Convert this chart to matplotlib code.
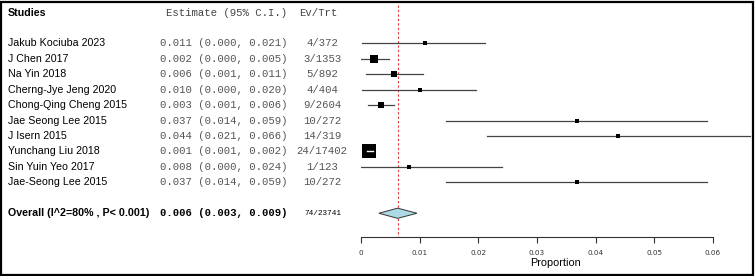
import matplotlib.pyplot as plt
import matplotlib.transforms as mtransforms
from matplotlib.patches import Polygon, Rectangle

studies = ['Jakub Kociuba 2023', 'J Chen 2017', 'Na Yin 2018', 'Cherng-Jye Jeng 2020',
           'Chong-Qing Cheng 2015', 'Jae Seong Lee 2015', 'J Isern 2015', 'Yunchang Liu 2018',
           'Sin Yuin Yeo 2017', 'Jae-Seong Lee 2015']
est = [0.0108, 0.0022, 0.0056, 0.0100, 0.0034, 0.0368, 0.0439, 0.0013, 0.0082, 0.0368]
lo = [0.0002, 0.0000, 0.0008, 0.0002, 0.0012, 0.0144, 0.0214, 0.0010, 0.0000, 0.0144]
hi = [0.0212, 0.0047, 0.0105, 0.0196, 0.0056, 0.0591, 0.0664, 0.0020, 0.0240, 0.0591]
weights = [2.7, 14.7, 7.5, 2.7, 12.0, 2.2, 2.2, 50.8, 3.3, 2.2]
est_txt = ['0.011 (0.000, 0.021)', '0.002 (0.000, 0.005)', '0.006 (0.001, 0.011)',
           '0.010 (0.000, 0.020)', '0.003 (0.001, 0.006)', '0.037 (0.014, 0.059)',
           '0.044 (0.021, 0.066)', '0.001 (0.001, 0.002)', '0.008 (0.000, 0.024)',
           '0.037 (0.014, 0.059)']
evtrt = ['4/372', '3/1353', '5/892', '4/404', '9/2604', '10/272', '14/319', '24/17402',
         '1/123', '10/272']
pooled, pooled_lo, pooled_hi = 0.0062, 0.0030, 0.0095
pooled_label = 'Overall (I^2=80% , P< 0.001)'
pooled_txt = '0.006 (0.003, 0.009)'
pooled_evtrt = '74/23741'
xticks = [0, 0.01, 0.02, 0.03, 0.04, 0.05, 0.06]
xticklabels = ['0', '0.01', '0.02', '0.03', '0.04', '0.05', '0.06']

W, H = 755, 276
fig = plt.figure(figsize=(W / 100, H / 100), dpi=100)
px = 58.57 / 0.01  # pixels per unit
x0 = 361.3
ax = fig.add_axes([x0 / W, 0, 1 - x0 / W, 1])
ax.set_xlim(0, (W - x0) / px)
row_h = 15.45
y_top = 43.3
ax.set_ylim((H - y_top) / row_h, -y_top / row_h)
for s in ax.spines.values():
    s.set_visible(False)
ax.set_yticks([])
ax.patch.set_alpha(0)

sans = 'Liberation Sans'
mono = 'Liberation Mono'
name_fs = 7.7
mono_fs = 7.65
tr = mtransforms.blended_transform_factory(fig.transFigure, ax.transData)

n = len(studies)
overall_row = n + 1
axis_row = 12.55

# header
ax.text(8 / W, -1.95, 'Studies', transform=tr, family=sans, fontsize=name_fs,
        fontweight='bold', va='center')
ax.text(166 / W, -1.95, 'Estimate (95% C.I.)', transform=tr, family=mono, fontsize=mono_fs,
        color='#444444', va='center')
ax.text(318 / W, -1.95, 'Ev/Trt', transform=tr, family=mono, fontsize=mono_fs,
        color='#444444', va='center', ha='center')

for i in range(n):
    ax.text(8 / W, i, studies[i], transform=tr, family=sans, fontsize=name_fs, va='center')
    ax.text(160 / W, i, est_txt[i], transform=tr, family=mono, fontsize=mono_fs,
            color='#555555', va='center')
    ax.text(322 / W, i, evtrt[i], transform=tr, family=mono, fontsize=mono_fs,
            color='#555555', va='center', ha='center')
    ax.plot([lo[i], hi[i]], [i, i], color='#444444', lw=0.9, zorder=2)
    side = (1.75 * weights[i] ** 0.5 + 0.8) * 0.72
    ax.plot(est[i], i, marker='s', ms=side, color='black', mec='black', mew=0, zorder=3)
    if side > 6:
        ax.plot([lo[i], hi[i]], [i, i], color='white', lw=1.0, zorder=4)

# overall row
ax.text(8 / W, overall_row, pooled_label, transform=tr, family=sans, fontsize=name_fs,
        fontweight='bold', va='center')
ax.text(160 / W, overall_row, pooled_txt, transform=tr, family=mono, fontsize=mono_fs,
        fontweight='bold', va='center')
ax.text(323 / W, overall_row, pooled_evtrt, transform=tr, family=mono, fontsize=5.6,
        va='center', ha='center')
dh = 0.33
ax.add_patch(Polygon([[pooled_lo, overall_row], [pooled, overall_row - dh],
                      [pooled_hi, overall_row], [pooled, overall_row + dh]],
                     closed=True, fc='#add8e6', ec='#333333', lw=0.7, zorder=3))

ax.plot([pooled, pooled], [-2.45, axis_row], color='#e03a3a', ls=(0, (2, 2)), lw=0.8,
        zorder=1)

# x axis
ax.spines['bottom'].set_visible(True)
ax.spines['bottom'].set_position(('data', axis_row))
ax.spines['bottom'].set_bounds(0, 0.06)
ax.spines['bottom'].set_color('#333333')
ax.spines['bottom'].set_linewidth(0.8)
ax.set_xticks(xticks)
ax.set_xticklabels(xticklabels)
ax.tick_params(axis='x', direction='out', length=4, width=0.8, color='#333333',
               labelsize=5.2, labelcolor='#333333', pad=5)
ax.text(0.0332, 14.25, 'Proportion', family=sans, fontsize=7.8, ha='center', va='center')

fig.patches.append(Rectangle((1 / W, 1 / H), 752 / W, 273.5 / H, transform=fig.transFigure,
                             fill=False, ec='black', lw=1.6))
fig.savefig('out.png', dpi=100)
